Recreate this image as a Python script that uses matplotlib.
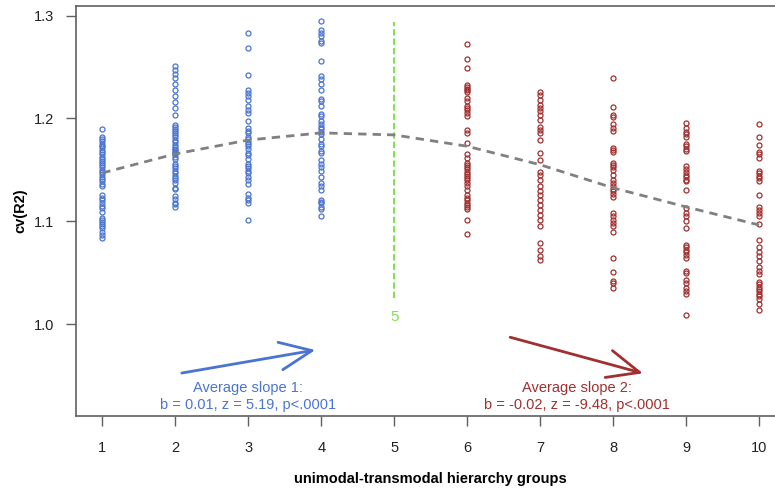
import numpy as np
import matplotlib
matplotlib.use('Agg')
import matplotlib.pyplot as plt

plt.rcParams['font.family'] = ['Liberation Sans', 'DejaVu Sans']

# -------------------------------------------------
# Data: cv(R2) per unimodal-transmodal hierarchy group
# -------------------------------------------------
g1 = [1.190, 1.182, 1.180, 1.178, 1.175, 1.173, 1.172, 1.169, 1.167, 1.165,
      1.163, 1.161, 1.159, 1.157, 1.155, 1.153, 1.150, 1.148, 1.146, 1.143,
      1.141, 1.139, 1.136, 1.134, 1.126, 1.123, 1.121, 1.118, 1.115, 1.113,
      1.109, 1.103, 1.101, 1.099, 1.097, 1.095, 1.093, 1.090, 1.087, 1.084]
g2 = [1.251, 1.247, 1.243, 1.239, 1.234, 1.228, 1.222, 1.216, 1.210, 1.203,
      1.194, 1.192, 1.190, 1.188, 1.186, 1.184, 1.182, 1.179, 1.177, 1.174,
      1.172, 1.170, 1.169, 1.167, 1.166, 1.165, 1.163, 1.161, 1.156, 1.154,
      1.152, 1.149, 1.147, 1.144, 1.142, 1.140, 1.137, 1.132, 1.131, 1.125,
      1.122, 1.118, 1.117, 1.114]
g3 = [1.283, 1.269, 1.242, 1.228, 1.225, 1.222, 1.218, 1.212, 1.208, 1.205,
      1.198, 1.191, 1.188, 1.186, 1.182, 1.180, 1.177, 1.175, 1.173, 1.170,
      1.166, 1.164, 1.161, 1.156, 1.154, 1.152, 1.149, 1.147, 1.143, 1.140,
      1.136, 1.127, 1.123, 1.121, 1.118, 1.101]
g4 = [1.295, 1.286, 1.283, 1.280, 1.275, 1.273, 1.256, 1.241, 1.238, 1.234,
      1.228, 1.219, 1.217, 1.212, 1.204, 1.202, 1.198, 1.195, 1.192, 1.190,
      1.187, 1.185, 1.180, 1.175, 1.173, 1.168, 1.166, 1.160, 1.156, 1.153,
      1.149, 1.143, 1.137, 1.134, 1.130, 1.121, 1.119, 1.118, 1.114, 1.112,
      1.105]
g6 = [1.272, 1.258, 1.249, 1.233, 1.231, 1.229, 1.228, 1.226, 1.220, 1.217,
      1.212, 1.210, 1.208, 1.205, 1.202, 1.189, 1.186, 1.176, 1.165, 1.162,
      1.157, 1.155, 1.153, 1.151, 1.148, 1.146, 1.144, 1.142, 1.140, 1.137,
      1.134, 1.130, 1.126, 1.123, 1.121, 1.118, 1.116, 1.114, 1.112, 1.101,
      1.088]
g7 = [1.226, 1.223, 1.218, 1.213, 1.210, 1.207, 1.203, 1.199, 1.192, 1.189,
      1.186, 1.179, 1.166, 1.160, 1.148, 1.145, 1.140, 1.134, 1.129, 1.126,
      1.121, 1.116, 1.111, 1.106, 1.101, 1.095, 1.079, 1.072, 1.066, 1.062]
g8 = [1.239, 1.211, 1.203, 1.201, 1.195, 1.191, 1.188, 1.171, 1.169, 1.167,
      1.157, 1.155, 1.153, 1.150, 1.145, 1.140, 1.137, 1.134, 1.131, 1.129,
      1.127, 1.124, 1.108, 1.105, 1.101, 1.098, 1.095, 1.090, 1.064, 1.051,
      1.042, 1.040, 1.035]
g9 = [1.196, 1.191, 1.187, 1.185, 1.182, 1.175, 1.173, 1.170, 1.168, 1.154,
      1.151, 1.148, 1.145, 1.143, 1.140, 1.139, 1.130, 1.113, 1.108, 1.105,
      1.100, 1.093, 1.077, 1.075, 1.072, 1.070, 1.067, 1.064, 1.052, 1.050,
      1.043, 1.040, 1.035, 1.032, 1.029, 1.009]
g10 = [1.195, 1.182, 1.174, 1.167, 1.165, 1.162, 1.149, 1.147, 1.144, 1.142,
       1.139, 1.126, 1.114, 1.111, 1.108, 1.105, 1.097, 1.082, 1.075, 1.070,
       1.066, 1.061, 1.056, 1.052, 1.049, 1.041, 1.039, 1.036, 1.034, 1.032,
       1.029, 1.027, 1.024, 1.020, 1.014]

groups_uni = {1: g1, 2: g2, 3: g3, 4: g4}
groups_trans = {6: g6, 7: g7, 8: g8, 9: g9, 10: g10}

# smooth trend across groups
trend_x = list(range(1, 11))
trend_y = [1.147, 1.1655, 1.179, 1.186, 1.184, 1.173, 1.155, 1.1325, 1.114, 1.0964]

# annotation positions (data units)
arrow1_start, arrow1_end = (2.09, 0.9524), (3.92, 0.9748)
arrow2_start, arrow2_end = (6.59, 0.9872), (8.41, 0.9521)
text1_pos = (3.0, 0.9296)
text2_pos = (7.5, 0.9296)
text1 = 'Average slope 1:\nb = 0.01, z = 5.19, p<.0001'
text2 = 'Average slope 2:\nb = -0.02, z = -9.48, p<.0001'
cut_x = 5
cut_y = (1.025, 1.294)

BLUE = '#4a74d2'
RED = '#a0302f'
GREEN = '#84e052'

# -------------------------------------------------
# Plot
# -------------------------------------------------
fig = plt.figure(figsize=(7.75, 4.88), dpi=100)
ax = fig.add_axes([76 / 775, 72 / 488, 709.3 / 775, 410 / 488])

for gx, vals in groups_uni.items():
    ax.plot(np.full(len(vals), gx), vals, 'o', ms=3.6, mfc='none',
            mec=BLUE, mew=0.9, zorder=3)
for gx, vals in groups_trans.items():
    ax.plot(np.full(len(vals), gx), vals, 'o', ms=3.6, mfc='none',
            mec=RED, mew=0.9, zorder=3)

ax.plot(trend_x, trend_y, color='#808080', lw=2, dashes=(3, 2.2), zorder=4)

# cut-off line between unimodal and transmodal groups
ax.plot([cut_x, cut_x], cut_y, color=GREEN, lw=1.5, dashes=(3, 1.5), zorder=2)
ax.text(cut_x, 1.007, '5', color=GREEN, fontsize=11, ha='center', va='center')

ax.annotate('', xy=arrow1_end, xytext=arrow1_start,
            arrowprops=dict(arrowstyle='->,head_length=1.15,head_width=0.5',
                            color=BLUE, lw=2, mutation_scale=20,
                            shrinkA=0, shrinkB=0))
ax.annotate('', xy=arrow2_end, xytext=arrow2_start,
            arrowprops=dict(arrowstyle='->,head_length=1.15,head_width=0.5',
                            color=RED, lw=2, mutation_scale=20,
                            shrinkA=0, shrinkB=0))
ax.text(*text1_pos, text1, color=BLUE, fontsize=10.5, ha='center',
        va='center', linespacing=1.3)
ax.text(*text2_pos, text2, color=RED, fontsize=10.5, ha='center',
        va='center', linespacing=1.3)

ax.set_xlim(0.64, 10.36)
ax.set_ylim(0.9106, 1.3094)
ax.set_xticks(range(1, 11))
ax.set_yticks([1.0, 1.1, 1.2, 1.3])
ax.set_yticklabels(['1.0', '1.1', '1.2', '1.3'])

for s in ax.spines.values():
    s.set_color('#606060')
    s.set_linewidth(1.2)
ax.tick_params(direction='out', length=7, width=1, color='#606060',
               labelsize=10.5, labelcolor='#222222')
ax.tick_params(axis='x', pad=11)
ax.tick_params(axis='y', pad=9)

ax.set_xlabel('unimodal-transmodal hierarchy groups', fontsize=10.5,
              fontweight='bold', labelpad=12)
ax.set_ylabel('cv(R2)', fontsize=10.5, fontweight='bold', labelpad=4)

fig.savefig('out.png', dpi=100)
